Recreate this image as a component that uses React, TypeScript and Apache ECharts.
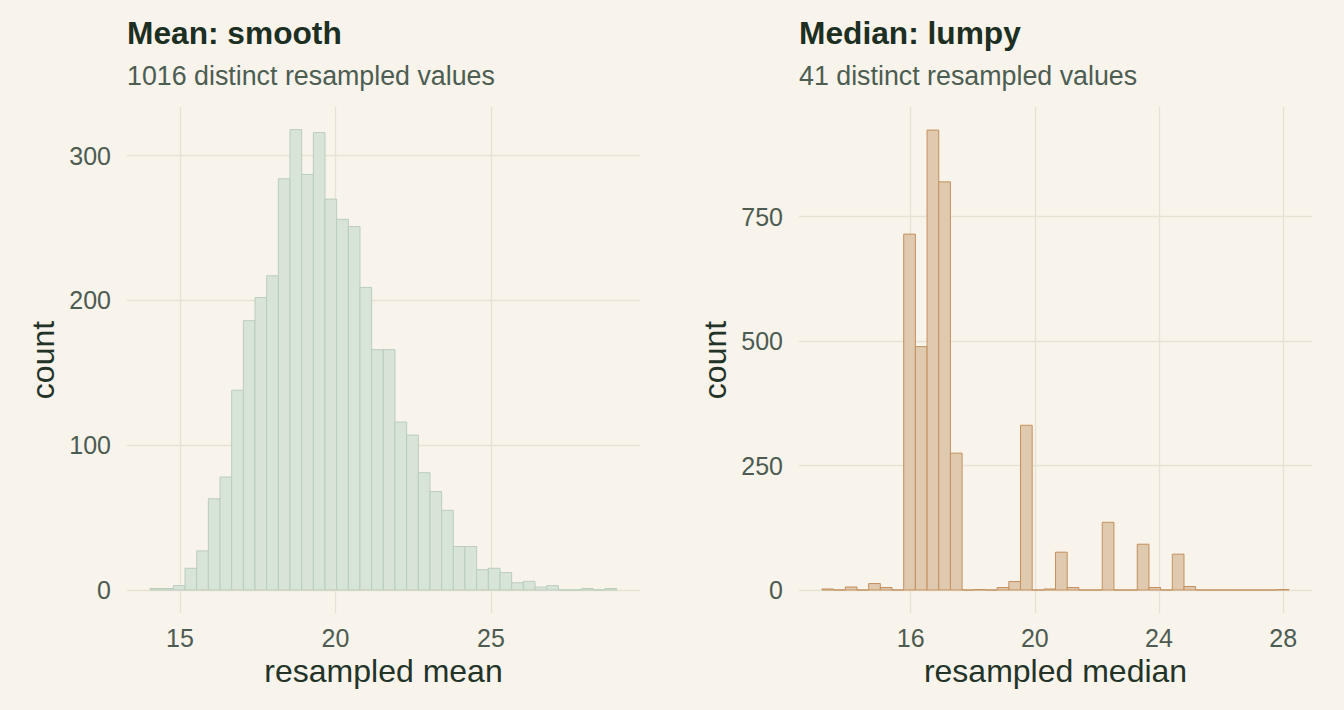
import React, { useEffect, useRef } from "react";
import * as echarts from "echarts";

// ---- data ----
const meanCounts = [
  1, 1, 3, 15, 27, 63, 78, 138, 186, 202, 217, 284, 318, 287, 316, 270, 256, 251, 209, 166,
  166, 116, 107, 81, 68, 55, 30, 30, 14, 15, 12, 5, 6, 2, 3, 0, 0, 1, 0, 1,
];
const meanBinStart = 14.04;
const meanBinWidth = 0.375;

const medianCounts = [
  2, 0, 6, 0, 13, 5, 0, 715, 489, 924, 820, 275, 0, 1, 0, 5, 17, 331, 0, 2,
  76, 5, 0, 0, 136, 0, 0, 92, 5, 0, 72, 7, 0, 0, 0, 0, 0, 0, 0, 1,
];
const medianBinStart = 13.14;
const medianBinWidth = 0.3763;

const meanXTicks = [15, 20, 25];
const meanYTicks = [0, 100, 200, 300];
const medianXTicks = [16, 20, 24, 28];
const medianYTicks = [0, 250, 500, 750];

const titles = ["Mean: smooth", "Median: lumpy"];
const subtitles = ["1016 distinct resampled values", "41 distinct resampled values"];
const xNames = ["resampled mean", "resampled median"];

// ---- style ----
const BG = "#f8f4ec";
const GRID = "#e7e2d4";
const FONT = "'Liberation Sans', Arial, Helvetica, sans-serif";
const TICK_COLOR = "#4d5b51";
const TITLE_COLOR = "#1d2e22";
const SUB_COLOR = "#4d5d52";
const AXIS_TITLE_COLOR = "#243328";

function bins(counts: number[], start: number, width: number) {
  return counts.map((c, i) => [start + i * width, start + (i + 1) * width, c]);
}

function histSeries(idx: number, data: number[][], fill: string, stroke: string) {
  return {
    type: "custom",
    xAxisIndex: idx,
    yAxisIndex: idx,
    encode: { x: [0, 1], y: 2 },
    data,
    renderItem: (params: any, api: any) => {
      const x0 = api.value(0);
      const x1 = api.value(1);
      const c = api.value(2);
      const pTop = api.coord([x0, c]);
      const pBot = api.coord([x1, 0]);
      return {
        type: "rect",
        shape: {
          x: pTop[0],
          y: pTop[1],
          width: pBot[0] - pTop[0],
          height: pBot[1] - pTop[1],
        },
        style: { fill, stroke, lineWidth: 1 },
      };
    },
  };
}

function xAxis(idx: number, min: number, max: number, ticks: number[], name: string) {
  return {
    type: "value",
    gridIndex: idx,
    min,
    max,
    name,
    nameLocation: "middle",
    nameGap: 39,
    nameTextStyle: { fontFamily: FONT, fontSize: 32, color: AXIS_TITLE_COLOR },
    axisLine: { show: false },
    axisTick: { show: false, customValues: ticks },
    axisLabel: {
      customValues: ticks,
      margin: 12,
      fontFamily: FONT,
      fontSize: 25,
      color: TICK_COLOR,
    },
    splitLine: { show: true, lineStyle: { color: GRID, width: 1.3 } },
  };
}

function yAxis(idx: number, min: number, max: number, ticks: number[]) {
  return {
    type: "value",
    gridIndex: idx,
    min,
    max,
    name: "count",
    nameLocation: "middle",
    nameGap: 68,
    nameTextStyle: { fontFamily: FONT, fontSize: 32, color: AXIS_TITLE_COLOR },
    axisLine: { show: false },
    axisTick: { show: false, customValues: ticks },
    axisLabel: {
      customValues: ticks,
      margin: 16,
      fontFamily: FONT,
      fontSize: 25,
      color: TICK_COLOR,
    },
    splitLine: { show: true, lineStyle: { color: GRID, width: 1.3 } },
  };
}

function titleText(x: number, i: number) {
  return [
    {
      type: "text",
      x,
      y: 44 - 0.3465 * 31.7,
      style: {
        text: titles[i],
        fontFamily: FONT,
        fontSize: 31.7,
        fontWeight: "bold",
        fill: TITLE_COLOR,
        verticalAlign: "middle",
        align: "left",
      },
    },
    {
      type: "text",
      x,
      y: 85 - 0.3465 * 26.8,
      style: {
        text: subtitles[i],
        fontFamily: FONT,
        fontSize: 26.8,
        fill: SUB_COLOR,
        verticalAlign: "middle",
        align: "left",
      },
    },
  ];
}

export default function App() {
  const ref = useRef<HTMLDivElement>(null);
  useEffect(() => {
    document.body.style.margin = "0";
    document.body.style.background = BG;
    const chart = echarts.init(ref.current!, undefined, { renderer: "svg" });
    chart.setOption({
      animation: false,
      backgroundColor: BG,
      grid: [
        { left: 127, top: 107, width: 513, height: 506 },
        { left: 799, top: 107, width: 513, height: 506 },
      ],
      xAxis: [
        xAxis(0, 13.3, 29.79, meanXTicks, xNames[0]),
        xAxis(1, 12.4, 28.93, medianXTicks, xNames[1]),
      ],
      yAxis: [yAxis(0, -15.9, 333.6, meanYTicks), yAxis(1, -46.2, 970.4, medianYTicks)],
      series: [
        histSeries(0, bins(meanCounts, meanBinStart, meanBinWidth), "#d9e4d9", "#b9cdbd"),
        histSeries(1, bins(medianCounts, medianBinStart, medianBinWidth), "#dfc9af", "#c4905d"),
      ],
      graphic: [...titleText(127, 0), ...titleText(799, 1)],
    });
    return () => chart.dispose();
  }, []);
  return (
    <div
      ref={ref}
      style={{ position: "fixed", left: 0, top: 0, width: 1344, height: 710, background: BG }}
    />
  );
}
